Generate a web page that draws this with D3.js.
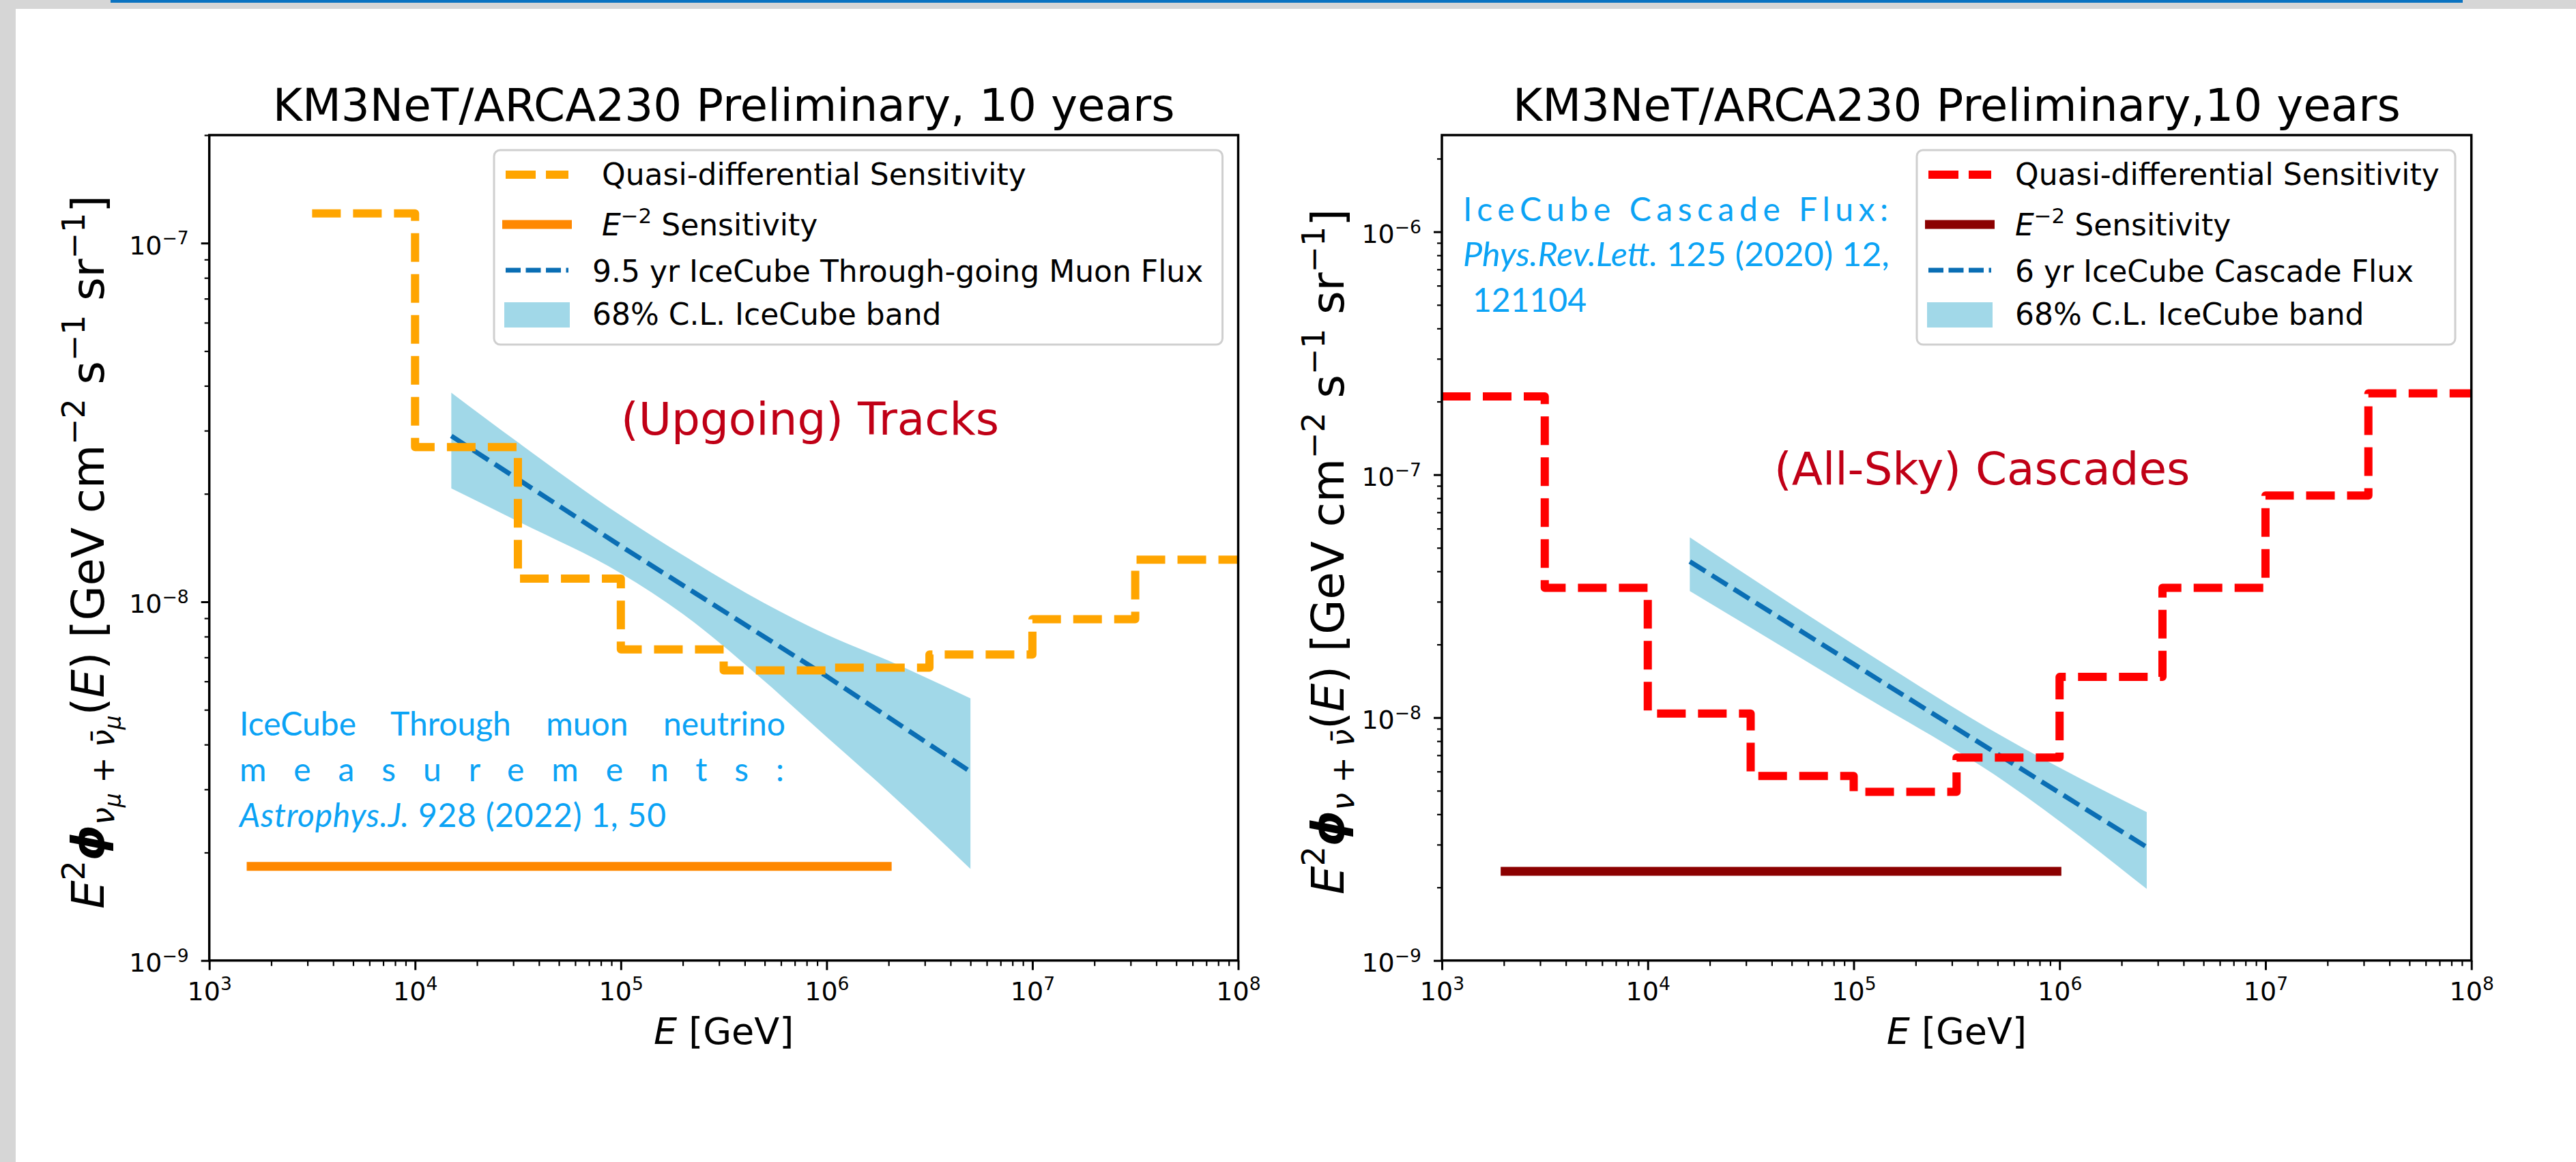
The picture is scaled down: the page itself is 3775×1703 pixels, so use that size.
<!DOCTYPE html>
<html>
<head>
<meta charset="utf-8">
<script src="https://cdn.jsdelivr.net/npm/d3@7"></script>
<style>
  body { margin: 0; background: #fff; }
  svg text { font-family: "DejaVu Sans", sans-serif; }
</style>
</head>
<body>
<svg id="chart" width="3775" height="1703"></svg>
<script>
// ---------- data ----------
const xTickExps = [3, 4, 5, 6, 7, 8];

// left: (upgoing) tracks
const trackYTickExps = [-9, -8, -7];
const trackEdges = [3.16e3, 1e4, 3.16e4, 1e5, 3.16e5, 1e6, 3.16e6, 1e7, 3.16e7, 1e8];
const trackSens = [1.21e-7, 2.7e-8, 1.16e-8, 7.37e-9, 6.44e-9, 6.55e-9, 7.13e-9, 8.94e-9, 1.31e-8];
const trackE2Range = [1.52e3, 2.07e6];
const trackE2Value = 1.83e-9;
const trackFluxE = [1.5e4, 1e5, 1e6, 5e6];
const trackFlux = [2.9e-8, 1.43e-8, 6.2e-9, 3.36e-9];
const trackBandE = [1.5e4, 3.2e4, 1e5, 2e5, 5e5, 1e6, 2e6, 5e6];
const trackBandLo = [2.07e-8, 1.67e-8, 1.2e-8, 9.25e-9, 6.0e-9, 4.2e-9, 2.95e-9, 1.8e-9];
const trackBandHi = [3.83e-8, 2.77e-8, 1.74e-8, 1.35e-8, 9.9e-9, 8.1e-9, 6.85e-9, 5.38e-9];
const trackLegend = ["Quasi-differential Sensitivity", "Sensitivity", "9.5 yr IceCube Through-going Muon Flux", "68% C.L. IceCube band"];

// right: (all-sky) cascades
const cascYTickExps = [-9, -8, -7, -6];
const cascEdges = [1e3, 3.16e3, 1e4, 3.16e4, 1e5, 3.16e5, 1e6, 3.16e6, 1e7, 3.16e7, 1e8];
const cascSens = [2.1e-7, 3.42e-8, 1.04e-8, 5.75e-9, 4.95e-9, 6.85e-9, 1.47e-8, 3.42e-8, 8.2e-8, 2.16e-7];
const cascE2Range = [1.93e3, 1.02e6];
const cascE2Value = 2.33e-9;
const cascFluxE = [1.6e4, 1e5, 1e6, 2.65e6];
const cascFlux = [4.39e-8, 1.66e-8, 4.9e-9, 2.93e-9];
const cascBandE = [1.6e4, 1e5, 5.5e5, 2.65e6];
const cascBandLo = [3.32e-8, 1.3e-8, 5.4e-9, 1.97e-9];
const cascBandHi = [5.52e-8, 2.0e-8, 8.2e-9, 4.08e-9];
const cascLegend = ["Quasi-differential Sensitivity", "Sensitivity", "6 yr IceCube Cascade Flux", "68% C.L. IceCube band"];

// ---------- page ----------
const svg = d3.select("#chart");
svg.append("rect").attr("width", 3775).attr("height", 1703).attr("fill", "#fff");
svg.append("rect").attr("width", 23).attr("height", 1703).attr("fill", "#d6d6d6");
svg.append("rect").attr("width", 3775).attr("height", 13).attr("fill", "#d6d6d6");
svg.append("rect").attr("x", 162).attr("width", 3447).attr("height", 4).attr("fill", "#0b73c1");

const plotTop = 198, plotBottom = 1407.7;
const bandColor = "#a1d8e8", fluxColor = "#0a6eb4";
const noteColor = "#0ba3f5", tagColor = "#c00016";
const noteFont = "Lato, 'Open Sans', sans-serif";

function powLabel(text, exp) {
  text.text(null);
  text.append("tspan").text("10");
  text.append("tspan").attr("font-size", "0.7em").attr("dy", "-0.55em")
    .text(exp < 0 ? "\u2212" + (-exp) : String(exp));
}

// rich text from segments: [str, {size, shift, style, weight}]
function richText(text, segs, F) {
  let prev = 0;
  segs.forEach(([s, o]) => {
    const shift = (o.shift || 0) * F;
    text.append("tspan")
      .attr("font-size", (o.size || 1) * F)
      .attr("dy", shift - prev)
      .attr("font-style", o.style || null)
      .attr("font-weight", o.weight || null)
      .text(s);
    prev = shift;
  });
}

function drawPanel(p) {
  const g = svg.append("g");
  const x = d3.scaleLog().domain([1e3, 1e8]).range([p.x0, p.x1]);
  const y = d3.scaleLog().domain([1e-9, p.yMax]).range([plotBottom, plotTop]);

  g.append("clipPath").attr("id", "clip" + p.id).append("rect")
    .attr("x", p.x0).attr("y", plotTop).attr("width", p.x1 - p.x0).attr("height", plotBottom - plotTop);
  const plot = g.append("g").attr("clip-path", `url(#clip${p.id})`);

  // 68% band
  const band = p.bandE.map((e, i) => ({e: e, lo: p.bandLo[i], hi: p.bandHi[i]}));
  plot.append("path").datum(band)
    .attr("fill", bandColor)
    .attr("d", d3.area().x(d => x(d.e)).y0(d => y(d.lo)).y1(d => y(d.hi)).curve(d3.curveMonotoneX));

  // IceCube flux
  plot.append("path").datum(p.fluxE.map((e, i) => [e, p.flux[i]]))
    .attr("fill", "none").attr("stroke", fluxColor).attr("stroke-width", 7)
    .attr("stroke-dasharray", "27,11")
    .attr("d", d3.line().x(d => x(d[0])).y(d => y(d[1])));

  // quasi-differential sensitivity steps
  const steps = p.sens.flatMap((v, i) => [[p.edges[i], v], [p.edges[i + 1], v]]);
  plot.append("path").datum(steps)
    .attr("fill", "none").attr("stroke", p.sensColor).attr("stroke-width", 12)
    .attr("stroke-dasharray", "42,18").attr("stroke-linejoin", "round")
    .attr("d", d3.line().x(d => x(d[0])).y(d => y(d[1])));

  // E^-2 sensitivity
  plot.append("path").datum(p.e2Range.map(e => [e, p.e2Value]))
    .attr("fill", "none").attr("stroke", p.e2Color).attr("stroke-width", 13)
    .attr("d", d3.line().x(d => x(d[0])).y(d => y(d[1])));

  // axes
  const xMaj = p.xExps.map(k => 10 ** k);
  const xMin = p.xExps.slice(0, -1).flatMap(k => [2, 3, 4, 5, 6, 7, 8, 9].map(m => m * 10 ** k));
  const yMaj = p.yExps.map(k => 10 ** k);
  const yMin = p.yExps.flatMap(k => [2, 3, 4, 5, 6, 7, 8, 9].map(m => m * 10 ** k))
    .filter(v => v <= p.yMax * 1.0001);

  const xa = g.append("g").attr("transform", `translate(0,${plotBottom})`)
    .call(d3.axisBottom(x).tickValues(xMaj).tickSize(14).tickPadding(17).tickFormat(d => d));
  xa.selectAll(".tick text").attr("font-size", 38).attr("font-family", "DejaVu Sans")
    .each(function(d) { powLabel(d3.select(this), Math.round(Math.log10(d))); });
  const xm = g.append("g").attr("transform", `translate(0,${plotBottom})`)
    .call(d3.axisBottom(x).tickValues(xMin).tickSize(8).tickFormat(""));

  const ya = g.append("g").attr("transform", `translate(${p.x0},0)`)
    .call(d3.axisLeft(y).tickValues(yMaj).tickSize(12).tickPadding(18).tickFormat(d => d));
  ya.selectAll(".tick text").attr("font-size", 38).attr("font-family", "DejaVu Sans").attr("dy", "0.42em")
    .each(function(d) { powLabel(d3.select(this), Math.round(Math.log10(d))); });
  const ym = g.append("g").attr("transform", `translate(${p.x0},0)`)
    .call(d3.axisLeft(y).tickValues(yMin).tickSize(7).tickFormat(""));

  [xa, xm, ya, ym].forEach(a => a.select(".domain").remove());
  [xa, ya].forEach(a => a.selectAll(".tick line").attr("stroke-width", 3));
  [xm, ym].forEach(a => a.selectAll(".tick line").attr("stroke-width", 2.2));

  // frame
  g.append("rect").attr("x", p.x0).attr("y", plotTop).attr("width", p.x1 - p.x0).attr("height", plotBottom - plotTop)
    .attr("fill", "none").attr("stroke", "#000").attr("stroke-width", 3.5);

  // title and labels
  const cx = (p.x0 + p.x1) / 2;
  g.append("text").attr("x", cx).attr("y", 177).attr("text-anchor", "middle")
    .attr("font-size", 66).text(p.title);

  const xl = g.append("text").attr("x", cx).attr("y", 1530).attr("text-anchor", "middle").attr("font-size", 54);
  xl.append("tspan").attr("font-style", "italic").text("E");
  xl.append("tspan").text(" [GeV]");

  const yl = g.append("text")
    .attr("transform", `translate(${p.ylabX},${p.ylabY0}) rotate(-90)`)
    .attr("textLength", p.ylabLen).attr("lengthAdjust", "spacing");
  richText(yl, p.ylabSegs, 66);

  // tag
  g.append("text").attr("x", p.tagX).attr("y", p.tagY).attr("font-size", 66)
    .attr("fill", tagColor).text(p.tag);

  // reference note
  p.note(g);

  // legend
  const lg = g.append("g");
  lg.append("rect").attr("x", p.lx0).attr("y", 220).attr("width", p.lx1 - p.lx0).attr("height", 285)
    .attr("rx", 9).attr("fill", "#fff").attr("fill-opacity", 0.85)
    .attr("stroke", "#cfcfcf").attr("stroke-width", 3);
  const hx = p.lx0 + 17, hw = 92;
  lg.append("line").attr("x1", hx).attr("x2", hx + hw).attr("y1", 256).attr("y2", 256)
    .attr("stroke", p.sensColor).attr("stroke-width", 12).attr("stroke-dasharray", "44,15");
  lg.append("line").attr("x1", hx - 5).attr("x2", hx + hw + 5).attr("y1", 329).attr("y2", 329)
    .attr("stroke", p.e2Color).attr("stroke-width", 13);
  lg.append("line").attr("x1", hx).attr("x2", hx + hw).attr("y1", 396).attr("y2", 396)
    .attr("stroke", fluxColor).attr("stroke-width", 7).attr("stroke-dasharray", "22,7.5");
  lg.append("rect").attr("x", hx - 2).attr("y", 443).attr("width", hw + 4).attr("height", 37)
    .attr("fill", bandColor);

  const tx = p.lx0 + 144;
  lg.append("text").attr("x", tx + p.indent).attr("y", 271).attr("font-size", 44).text(p.legend[0]);
  const l2 = lg.append("text").attr("x", tx + p.indent).attr("y", 345).attr("font-size", 44);
  l2.append("tspan").attr("font-style", "italic").text("E");
  l2.append("tspan").attr("font-size", "0.7em").attr("dy", "-0.6em").text("\u22122");
  l2.append("tspan").attr("dy", "0.42em").text(" " + p.legend[1]);
  lg.append("text").attr("x", tx).attr("y", 413).attr("font-size", 44).text(p.legend[2]);
  lg.append("text").attr("x", tx).attr("y", 476).attr("font-size", 44).text(p.legend[3]);
}

const sup = {size: 0.7, shift: -0.42};
const ylabTail = [
  ["(", {}], ["E", {style: "italic"}], [") [GeV cm", {}], ["\u22122", sup],
  [" s", {}], ["\u22121", sup], [" sr", {}], ["\u22121", sup], ["]", {}]
];

drawPanel({
  id: "L", x0: 306.7, x1: 1814.5, yMax: 2e-7, xExps: xTickExps, yExps: trackYTickExps,
  title: "KM3NeT/ARCA230 Preliminary, 10 years",
  edges: trackEdges, sens: trackSens, sensColor: "#ffa500",
  e2Range: trackE2Range, e2Value: trackE2Value, e2Color: "#ff8800",
  fluxE: trackFluxE, flux: trackFlux, bandE: trackBandE, bandLo: trackBandLo, bandHi: trackBandHi,
  ylabX: 152, ylabY0: 1332, ylabLen: 1046,
  ylabSegs: [
    ["E", {style: "italic"}], ["2", sup], ["\u03d5", {style: "italic", weight: "bold"}],
    ["\u03bd", {size: 0.7, shift: 0.22, style: "italic"}], ["\u03bc", {size: 0.5, shift: 0.38, style: "italic"}],
    [" + ", {size: 0.7, shift: 0.22}],
    ["\u03bd\u0304", {size: 0.7, shift: 0.22, style: "italic"}], ["\u03bc", {size: 0.5, shift: 0.38, style: "italic"}]
  ].concat(ylabTail),
  tag: "(Upgoing) Tracks", tagX: 910, tagY: 637,
  lx0: 724, lx1: 1791.5, indent: 14, legend: trackLegend,
  note: function(g) {
    const t = g.append("g").attr("font-family", noteFont).attr("font-size", 48).attr("fill", noteColor);
    const l1 = t.append("text").attr("x", 351).attr("y", 1078).style("font-family", noteFont)
      .text("IceCube Through muon neutrino");
    const w = l1.node().getComputedTextLength();
    l1.attr("word-spacing", (800 - w) / 3);
    t.append("text").attr("x", 351).attr("y", 1145).style("font-family", noteFont)
      .attr("textLength", 798).attr("lengthAdjust", "spacing").text("measurements:");
    const l3 = t.append("text").attr("x", 351).attr("y", 1212).style("font-family", noteFont)
      .attr("textLength", 625).attr("lengthAdjust", "spacing");
    l3.append("tspan").attr("font-style", "italic").text("Astrophys.J.");
    l3.append("tspan").text(" 928 (2022) 1, 50");
  }
});

drawPanel({
  id: "R", x0: 2113, x1: 3621.7, yMax: 2.5e-6, xExps: xTickExps, yExps: cascYTickExps,
  title: "KM3NeT/ARCA230 Preliminary,10 years",
  edges: cascEdges, sens: cascSens, sensColor: "#ff0000",
  e2Range: cascE2Range, e2Value: cascE2Value, e2Color: "#8b0000",
  fluxE: cascFluxE, flux: cascFlux, bandE: cascBandE, bandLo: cascBandLo, bandHi: cascBandHi,
  ylabX: 1969, ylabY0: 1311, ylabLen: 1005,
  ylabSegs: [
    ["E", {style: "italic"}], ["2", sup], ["\u03d5", {style: "italic", weight: "bold"}],
    ["\u03bd", {size: 0.7, shift: 0.22, style: "italic"}],
    [" + ", {size: 0.7, shift: 0.22}],
    ["\u03bd\u0304", {size: 0.7, shift: 0.22, style: "italic"}]
  ].concat(ylabTail),
  tag: "(All-Sky) Cascades", tagX: 2600, tagY: 710,
  lx0: 2809, lx1: 3598, indent: 0, legend: cascLegend,
  note: function(g) {
    const t = g.append("g").attr("font-family", noteFont).attr("font-size", 48).attr("fill", noteColor);
    t.append("text").attr("x", 2144).attr("y", 324).style("font-family", noteFont)
      .attr("textLength", 623).attr("lengthAdjust", "spacing").text("IceCube Cascade Flux:");
    const l2 = t.append("text").attr("x", 2144).attr("y", 390).style("font-family", noteFont)
      .attr("textLength", 625).attr("lengthAdjust", "spacingAndGlyphs");
    l2.append("tspan").attr("font-style", "italic").text("Phys.Rev.Lett.");
    l2.append("tspan").text(" 125 (2020) 12,");
    t.append("text").attr("x", 2158).attr("y", 457).style("font-family", noteFont).text("121104");
  }
});
</script>
</body>
</html>
